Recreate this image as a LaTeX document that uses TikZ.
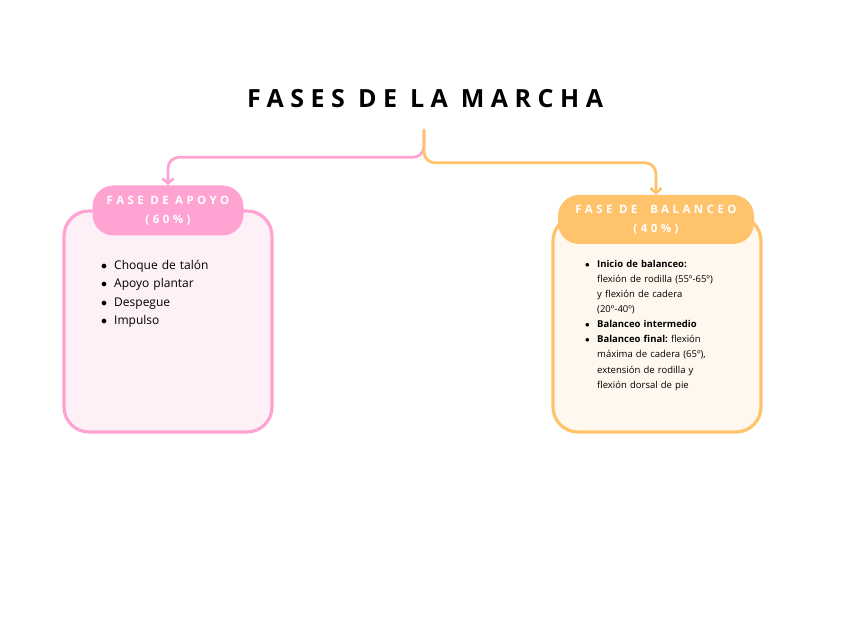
\documentclass[tikz,border=0pt]{standalone}
\usepackage{fontspec}
\setmainfont{Open Sans}
\newfontfamily\titlefont[LetterSpace=26]{Open Sans}
\newfontfamily\headfont[LetterSpace=30]{Open Sans}
\usetikzlibrary{arrows.meta,calc,positioning}

\definecolor{apoyopink}{HTML}{FFA3D3}
\definecolor{apoyofill}{HTML}{FDF0F7}
\definecolor{balorange}{HTML}{FFC36C}
\definecolor{balfill}{HTML}{FFF8EE}

\newcommand{\bitem}[1][13pt]{\par\hangindent=#1\hangafter=1\noindent\makebox[#1][l]{$\bullet$}\ignorespaces}

\begin{document}
\begin{tikzpicture}[
  x=1pt,y=-1pt,
  >={Straight Barb[length=5pt,width=11pt,line width=2.6pt]},
  phasebox/.style={rounded corners=25pt,line width=3.2pt,minimum width=208pt,inner sep=0pt},
  phasehead/.style={rounded corners=21pt,text=white,align=center,inner sep=0pt,
    font=\headfont\bfseries\fontsize{11.5}{19}\selectfont},
  link/.style={line width=2.8pt,rounded corners=11pt,->,line cap=round},
  itemlist/.style={anchor=north west,inner sep=0pt,text width=170pt,
    execute at begin node=\raggedright\frenchspacing}
]
  \path[use as bounding box,fill=white] (0,0) rectangle (848,636);

  \node[anchor=base,font=\titlefont\bfseries\fontsize{25}{30}\selectfont] (title)
    at (425,108) {FASES DE LA MARCHA};
  \coordinate (fork) at (424,130);

  % left branch
  \node[phasebox,draw=apoyopink,fill=apoyofill,minimum height=221pt] (apoyo) at (168,321.5) {};
  \node[phasehead,fill=apoyopink,minimum width=151pt,minimum height=50pt] (apoyohead)
    at (168,210.5) {FASE DE APOYO\\(60\%)};
  \node[itemlist,font=\fontsize{12}{18.3}\selectfont] (apoyolist) at (101,251)
    {\bitem Choque de talón
     \bitem Apoyo plantar
     \bitem Despegue
     \bitem Impulso\endgraf};

  % right branch
  \node[phasebox,draw=balorange,fill=balfill,minimum height=216pt] (balanceo) at (657,324) {};
  \node[phasehead,fill=balorange,minimum width=196pt,minimum height=49pt] (balanceohead)
    at (656,219.5) {FASE DE \ BALANCEO\\(40\%)};
  \node[itemlist,font=\fontsize{9.5}{15.1}\selectfont] (balanceolist) at (585,252)
    {\bitem[12pt] \textbf{Inicio de balanceo:}\newline flexión de rodilla (55º-65º)\newline
       y flexión de cadera\newline (20º-40º)
     \bitem[12pt] \textbf{Balanceo intermedio}
     \bitem[12pt] \textbf{Balanceo final:} flexión\newline máxima de cadera (65º),\newline
       extensión de rodilla y\newline flexión dorsal de pie\endgraf};

  \draw[link,apoyopink] (fork) |- ($(apoyohead.north)+(0,-28)$) -- (apoyohead.north);
  \draw[link,balorange] (fork) |- ($(balanceohead.north)+(0,-32)$) -- (balanceohead.north);
\end{tikzpicture}
\end{document}
